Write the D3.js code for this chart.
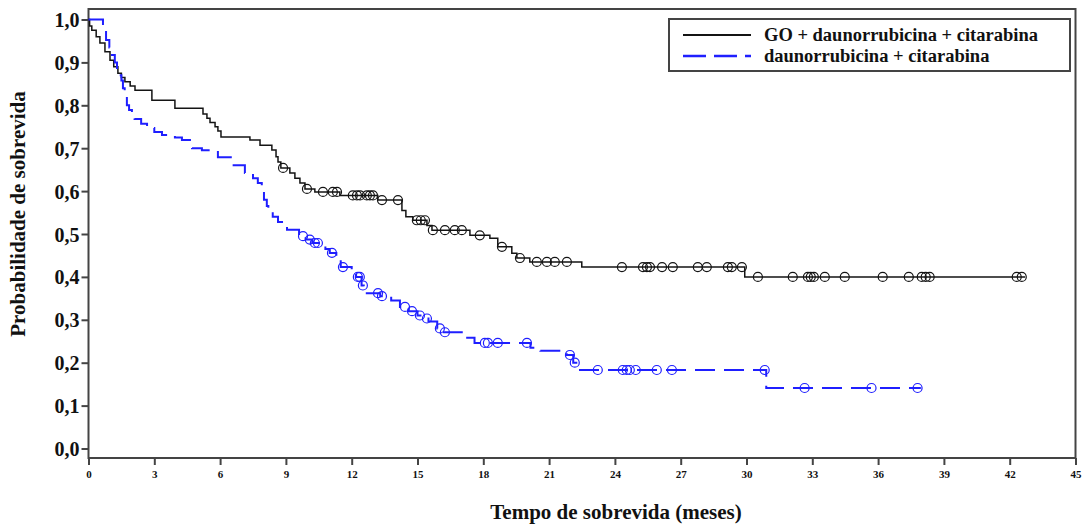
<!DOCTYPE html>
<html>
<head>
<meta charset="utf-8">
<script src="https://cdn.jsdelivr.net/npm/d3@7"></script>
<style>
  body { margin: 0; background: #fff; }
  svg text { font-family: "Liberation Serif", "Times New Roman", serif; font-weight: bold; fill: #111; }
</style>
</head>
<body>
<div id="chart"></div>
<script>
// Kaplan-Meier steps: [month, survival]
var goSteps = [[0, 1.0], [0.05, 0.985], [0.15, 0.975], [0.35, 0.96], [0.52, 0.945], [0.75, 0.925],
  [0.98, 0.905], [1.15, 0.89], [1.34, 0.875], [1.5, 0.865], [1.66, 0.855], [1.9, 0.845],
  [2.12, 0.835], [2.89, 0.812], [3.94, 0.793], [5.22, 0.78], [5.4, 0.77], [5.54, 0.76],
  [5.77, 0.75], [5.9, 0.74], [6.04, 0.726], [7.36, 0.719], [7.82, 0.707], [8.36, 0.696],
  [8.55, 0.68], [8.64, 0.668], [8.77, 0.654], [9.18, 0.642], [9.41, 0.63], [9.64, 0.619],
  [9.87, 0.605], [10.32, 0.598], [11.46, 0.59], [13.19, 0.579], [14.29, 0.555], [14.47, 0.54],
  [14.79, 0.532], [15.43, 0.52], [15.66, 0.509], [17.39, 0.497], [18.3, 0.49], [18.66, 0.47],
  [19.3, 0.455], [19.53, 0.444], [20.12, 0.435], [22.49, 0.423], [29.92, 0.40]];
var goEnd = 42.7;
var goCensored = [8.87, 9.96, 10.69, 11.14, 11.33, 12.05, 12.24, 12.38, 12.69, 12.83, 12.97,
  13.38, 14.11, 14.97, 15.15, 15.34, 15.7, 16.25, 16.7, 17.02, 17.84, 18.85, 19.67, 20.44,
  20.9, 21.26, 21.81, 24.32, 25.28, 25.46, 25.6, 26.15, 26.64, 27.78, 28.19, 29.15, 29.33,
  29.79, 30.52, 32.11, 32.8, 32.93, 33.07, 33.57, 34.48, 36.21, 37.4, 37.99, 38.17, 38.35,
  42.32, 42.55];

var daSteps = [[0, 1.0], [0.66, 0.975], [0.8, 0.952], [0.95, 0.935], [1.07, 0.917], [1.2, 0.9],
  [1.3, 0.882], [1.42, 0.87], [1.5, 0.858], [1.57, 0.84], [1.65, 0.824], [1.75, 0.8],
  [1.85, 0.789], [1.98, 0.775], [2.1, 0.768], [2.4, 0.757], [2.67, 0.747], [3.0, 0.738],
  [3.35, 0.731], [3.94, 0.725], [4.26, 0.719], [4.72, 0.70], [5.17, 0.695], [5.9, 0.679],
  [6.54, 0.66], [7.13, 0.642], [7.5, 0.63], [7.72, 0.619], [7.9, 0.6], [8.0, 0.58],
  [8.13, 0.565], [8.2, 0.556], [8.4, 0.54], [8.64, 0.528], [9.05, 0.51], [9.6, 0.495],
  [9.9, 0.487], [10.2, 0.479], [10.8, 0.465], [11.0, 0.456], [11.3, 0.44], [11.5, 0.423],
  [12.0, 0.41], [12.2, 0.40], [12.45, 0.38], [12.55, 0.362], [13.3, 0.355], [13.8, 0.345],
  [14.2, 0.33], [14.6, 0.32], [15.0, 0.31], [15.3, 0.303], [15.5, 0.296], [15.9, 0.28],
  [16.1, 0.271], [17.2, 0.258], [17.6, 0.246], [20.15, 0.235], [20.6, 0.228], [21.8, 0.218],
  [22.1, 0.2], [22.35, 0.183], [30.9, 0.141]];
var daEnd = 37.95;
var daCensored = [9.78, 10.09, 10.32, 10.46, 11.1, 11.6, 12.28, 12.37, 12.51, 13.2, 13.38,
  14.43, 14.75, 15.11, 15.43, 16.02, 16.25, 18.07, 18.21, 18.66, 19.99, 21.95, 22.17, 23.22,
  24.36, 24.54, 24.68, 24.95, 25.91, 26.6, 30.83, 32.65, 35.7, 37.8];

var seriesNames = ["GO + daunorrubicina + citarabina", "daunorrubicina + citarabina"];
var xTicks = d3.range(0, 46, 3);
var yTicks = d3.range(0, 11).map(function (i) { return i / 10; });

var width = 1086, height = 527;

var svg = d3.select("#chart").append("svg")
    .attr("width", width)
    .attr("height", height);

var x = d3.scaleLinear().domain([0, 45]).range([88.5, 1075.5]);
var y = d3.scaleLinear().domain([0, 1]).range([448.5, 19.5]);

var frameTop = 9, frameBottom = 458;

// frame
svg.append("rect")
    .attr("x", x(0)).attr("y", frameTop)
    .attr("width", x(45) - x(0)).attr("height", frameBottom - frameTop)
    .attr("fill", "none").attr("stroke", "#444").attr("stroke-width", 2);

// y axis
var yAxis = svg.append("g")
    .attr("transform", "translate(" + x(0) + ",0)")
    .call(d3.axisLeft(y).tickValues(yTicks).tickSize(7).tickPadding(2)
      .tickFormat(function (d) { return d3.format(".1f")(d).replace(".", ","); }));
yAxis.select(".domain").remove();
yAxis.selectAll("line").attr("stroke", "#444").attr("stroke-width", 2);
yAxis.selectAll("text").attr("font-size", 20).attr("font-family", null).attr("dy", "0.35em");

// x axis
var xAxis = svg.append("g")
    .attr("transform", "translate(0," + frameBottom + ")")
    .call(d3.axisBottom(x).tickValues(xTicks).tickSize(7).tickPadding(5));
xAxis.select(".domain").remove();
xAxis.selectAll("line").attr("stroke", "#444").attr("stroke-width", 2);
xAxis.selectAll("text").attr("font-size", 11).attr("font-family", null);

// axis titles
svg.append("text")
    .attr("x", 616).attr("y", 519)
    .attr("text-anchor", "middle")
    .attr("font-size", 21)
    .text("Tempo de sobrevida (meses)");

svg.append("text")
    .attr("transform", "translate(25,214) rotate(-90)")
    .attr("text-anchor", "middle")
    .attr("font-size", 21)
    .text("Probabilidade de sobrevida");

// survival curves
function stepPoints(steps, end) {
  var pts = steps.slice();
  pts.push([end, steps[steps.length - 1][1]]);
  return pts;
}
function levelAt(steps, t) {
  var v = steps[0][1];
  steps.forEach(function (s) { if (s[0] <= t) v = s[1]; });
  return v;
}

var line = d3.line()
    .curve(d3.curveStepAfter)
    .x(function (d) { return x(d[0]); })
    .y(function (d) { return y(d[1]); });

var series = [
  { steps: goSteps, end: goEnd, cens: goCensored, color: "#141414", width: 1.5, dash: null },
  { steps: daSteps, end: daEnd, cens: daCensored, color: "#1f1fff", width: 2, dash: "20,9" }
];

series.forEach(function (s) {
  svg.append("path")
      .datum(stepPoints(s.steps, s.end))
      .attr("d", line)
      .attr("fill", "none")
      .attr("stroke", s.color)
      .attr("stroke-width", s.width)
      .attr("stroke-dasharray", s.dash);

  svg.selectAll(null)
      .data(s.cens)
    .enter().append("circle")
      .attr("cx", function (d) { return x(d); })
      .attr("cy", function (d) { return y(levelAt(s.steps, d)); })
      .attr("r", 4.5)
      .attr("fill", "none")
      .attr("stroke", s.color)
      .attr("stroke-width", 1.2);
});

// legend
var legend = svg.append("g");
legend.append("rect")
    .attr("x", 669).attr("y", 19).attr("width", 401).attr("height", 52)
    .attr("fill", "#fff").attr("stroke", "#444").attr("stroke-width", 2);

series.forEach(function (s, i) {
  var ly = 35 + i * 21;
  legend.append("line")
      .attr("x1", 683).attr("x2", 751).attr("y1", ly).attr("y2", ly)
      .attr("stroke", s.color).attr("stroke-width", s.width + 0.5)
      .attr("stroke-dasharray", s.dash ? "23,8" : null);
  legend.append("text")
      .attr("x", 764).attr("y", ly).attr("dy", "0.35em")
      .attr("font-size", 18.5)
      .text(seriesNames[i]);
});
</script>
</body>
</html>
